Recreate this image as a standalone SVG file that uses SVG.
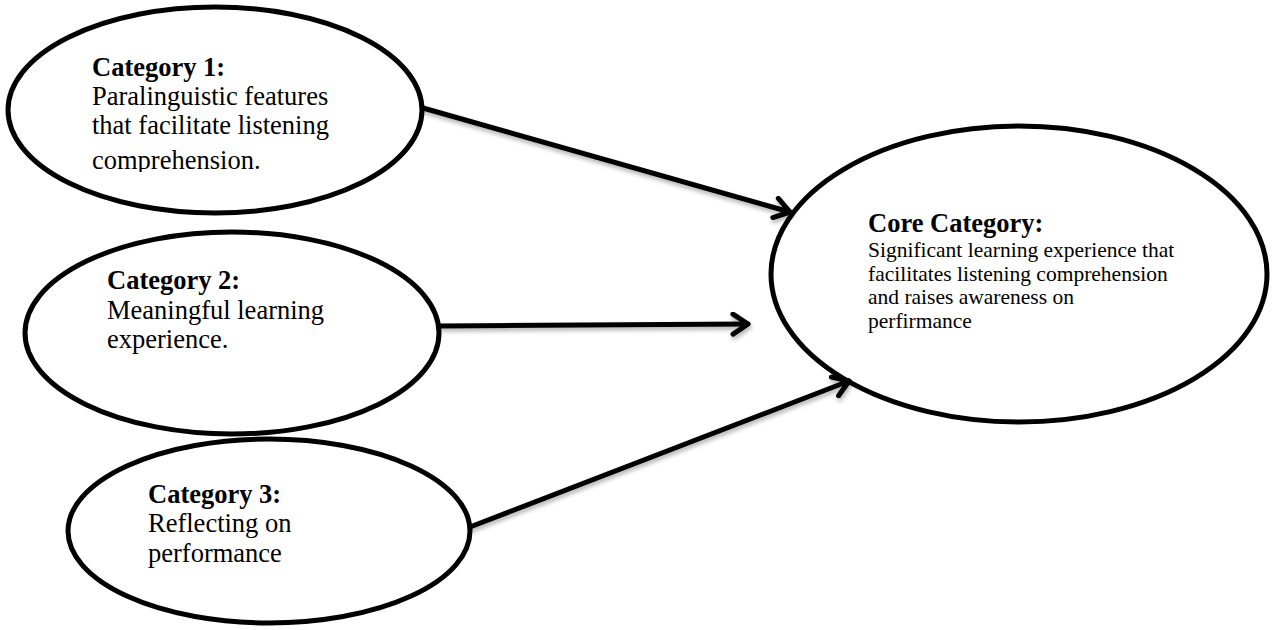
<svg xmlns="http://www.w3.org/2000/svg" width="1275" height="630" viewBox="0 0 1275 630">
<style>
.node{fill:#fff;stroke:#000;stroke-width:5}
.t{font-family:"Liberation Serif","Times New Roman",serif;fill:#000}
.h{font-weight:bold;font-size:26.5px}
.b{font-size:26.5px}
.cb{font-size:21.5px}
.conn{stroke:#000;stroke-width:5;fill:none;stroke-linecap:round;stroke-linejoin:round}
</style>
<defs>
<filter id="sh" x="-10%" y="-10%" width="120%" height="130%">
<feDropShadow dx="1" dy="3" stdDeviation="2" flood-color="#000" flood-opacity="0.3"/>
</filter>
<marker id="ah" viewBox="0 0 20 20" refX="16" refY="10" markerWidth="5" markerHeight="5" markerUnits="strokeWidth" orient="auto">
<path d="M4,2 L16,10 L4,18" fill="none" stroke="#000" stroke-width="4" stroke-linecap="round" stroke-linejoin="round"/>
</marker>
<clipPath id="c1"><rect x="0" y="0" width="440" height="172"/></clipPath>
</defs>
<rect width="1275" height="630" fill="#fff"/>
<g id="cat1">
<ellipse class="node" cx="215" cy="110" rx="207" ry="103"/>
<g clip-path="url(#c1)">
<text class="t h" x="92" y="76">Category 1:</text>
<text class="t b" x="92" y="105">Paralinguistic features</text>
<text class="t b" x="92" y="134">that facilitate listening</text>
<text class="t b" x="92" y="169">comprehension.</text>
</g>
</g>
<g id="cat2">
<ellipse class="node" cx="232" cy="333" rx="207" ry="101"/>
<text class="t h" x="107" y="289">Category 2:</text>
<text class="t b" x="107" y="319">Meaningful learning</text>
<text class="t b" x="107" y="348">experience.</text>
</g>
<g id="cat3">
<ellipse class="node" cx="269" cy="531" rx="201" ry="92"/>
<text class="t h" x="148" y="503">Category 3:</text>
<text class="t b" x="148" y="532">Reflecting on</text>
<text class="t b" x="148" y="562">performance</text>
</g>
<g id="core">
<ellipse class="node" cx="1019" cy="274" rx="248" ry="148"/>
<text class="t h" x="868" y="232">Core Category:</text>
<text class="t cb" x="868" y="257">Significant learning experience that</text>
<text class="t cb" x="868" y="281">facilitates listening comprehension</text>
<text class="t cb" x="868" y="304">and raises awareness on</text>
<text class="t cb" x="868" y="328">perfirmance</text>
</g>
<g id="connectors" filter="url(#sh)">
<line class="conn" x1="423" y1="108" x2="790" y2="212" marker-end="url(#ah)"/>
<line class="conn" x1="440" y1="326" x2="748" y2="324" marker-end="url(#ah)"/>
<line class="conn" x1="470" y1="527" x2="849" y2="381" marker-end="url(#ah)"/>
</g>
</svg>
